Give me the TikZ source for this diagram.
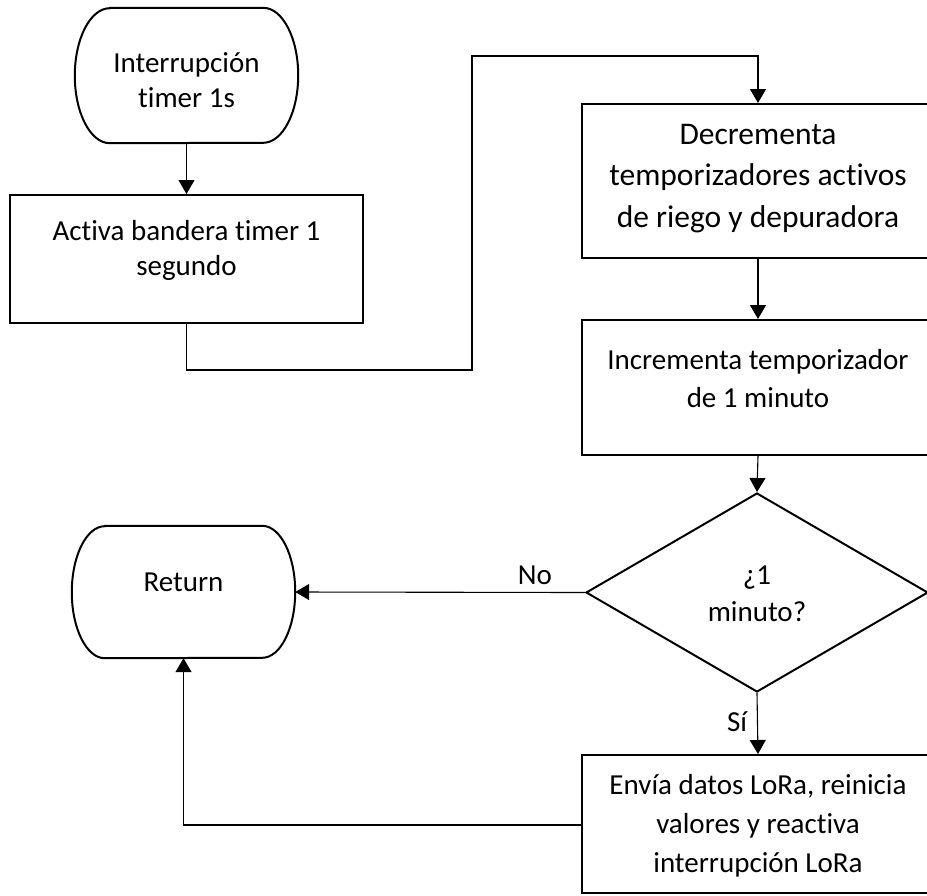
\documentclass[tikz,border=0pt]{standalone}
\usepackage{fontspec}
\setmainfont{Carlito}[Ligatures=NoCommon]
\usetikzlibrary{arrows.meta,calc,shapes.geometric}

\tikzset{
  outline/.style={draw=black, line width=2pt},
  box/.style={outline, rectangle, inner sep=0pt},
  txt/.style={align=center, inner sep=0pt, font=\fontsize{29}{37}\selectfont},
  link/.style={draw=black, line width=1.1pt},
  flow/.style={link, -{Triangle[length=14pt,width=16pt]}},
  lbl/.style={inner sep=0pt, font=\fontsize{29}{35}\selectfont},
}

\begin{document}
\begin{tikzpicture}[x=1pt,y=1pt]
  \useasboundingbox (0,0) rectangle (927,-895);
  \begin{scope}
    \clip (0,0) rectangle (927,-895);

    % start terminal: straight top and bottom, half-ellipse ends
    \node[rectangle, minimum width=223pt, minimum height=135pt, inner sep=0pt] (start) at (186.5,-75.5) {};
    \draw[outline]
      ($(start.north west)+(35,0)$) -- ($(start.north east)+(-35,0)$)
      arc[start angle=90, end angle=-90, x radius=35pt, y radius=67.5pt]
      -- ($(start.south west)+(35,0)$)
      arc[start angle=270, end angle=90, x radius=35pt, y radius=67.5pt]
      -- cycle;
    \node[txt, font=\fontsize{29}{35}\selectfont] (startt) at (186.5,-80.5) {Interrupción\\timer 1s};

    % first action box
    \node[box, minimum width=353pt, minimum height=128pt] (b1) at (186.5,-259) {};
    \node[txt, font=\fontsize{29}{35}\selectfont] (b1t) at (186.5,-250) {Activa bandera timer 1\\segundo};

    % right column boxes
    \node[box, minimum width=352pt, minimum height=154pt] (b2) at (758,-181) {};
    \node[txt, font=\fontsize{31.5}{41.5}\selectfont] (b2t) at (758,-178.5) {Decrementa\\temporizadores activos\\de riego y depuradora};

    \node[box, minimum width=352pt, minimum height=135pt] (b3) at (758,-387.5) {};
    \node[txt, font=\fontsize{29}{38}\selectfont] (b3t) at (758,-379) {Incrementa temporizador\\de 1 minuto};

    \node[outline, diamond, minimum width=342pt, minimum height=199pt, inner sep=0pt, aspect=1.72] (dec) at (757,-592.5) {};
    \node[txt] (dect) at (757,-593.5) {¿1\\minuto?};

    \node[box, minimum width=352pt, minimum height=138pt] (b4) at (758,-824) {};
    \node[txt, font=\fontsize{29}{39}\selectfont] (b4t) at (758,-826) {Envía datos LoRa, reinicia\\valores y reactiva\\interrupción LoRa};

    % return terminal
    \node[rectangle, minimum width=223pt, minimum height=132pt, inner sep=0pt] (ret) at (183.5,-592) {};
    \draw[outline]
      ($(ret.north west)+(33,0)$) -- ($(ret.north east)+(-33,0)$)
      arc[start angle=90, end angle=-90, x radius=33pt, y radius=66pt]
      -- ($(ret.south west)+(33,0)$)
      arc[start angle=270, end angle=90, x radius=33pt, y radius=66pt]
      -- cycle;
    \node[txt] (rett) at (183.5,-582) {Return};

    % connectors
    \coordinate (c1) at (186.5,-370);
    \coordinate (c2) at (472,-370);
    \coordinate (c3) at (472,-56);
    \coordinate (c4) at (183.5,-825);

    \draw[flow] (start.south) -- (b1.north);
    \draw[flow] (b1.south) -- (c1) -- (c2) -- (c3) -- (b2.north |- c3) -- (b2.north);
    \draw[flow] (b2.south) -- (b3.north);
    \draw[flow] (b3.south) -- (dec.north);
    \draw[flow] (dec.west) -- (ret.east);
    \draw[flow] (dec.south) -- (b4.north);
    \draw[flow] (b4.west |- c4) -- (c4) -- (ret.south);

    \node[lbl] (no) at (535,-575) {No};
    \node[lbl] (si) at (737,-722) {Sí};
  \end{scope}
\end{tikzpicture}
\end{document}
